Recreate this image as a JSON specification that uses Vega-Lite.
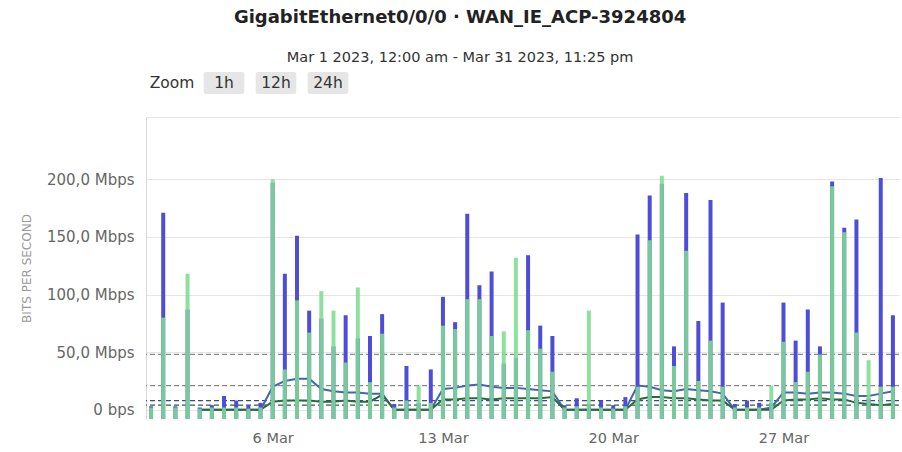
{
  "$schema": "https://vega.github.io/schema/vega-lite/v6.json",
  "background": "white",
  "padding": {"left": 20, "top": 8, "right": 0, "bottom": 2},
  "config": {"font": "DejaVu Sans", "view": {"stroke": null}},
  "title": {
    "text": "GigabitEthernet0/0/0 · WAN_IE_ACP-3924804",
    "subtitle": "Mar 1 2023, 12:00 am - Mar 31 2023, 11:25 pm",
    "fontSize": 18, "fontWeight": "bold", "color": "#222",
    "subtitleFontSize": 14.5, "subtitleColor": "#333", "subtitlePadding": 24,
    "offset": 8, "anchor": "middle"
  },
  "bounds": "flush",
  "spacing": 23,
  "datasets": {
    "zoom": [
      {"label": "Zoom", "button": false},
      {"label": "1h", "button": true},
      {"label": "12h", "button": true},
      {"label": "24h", "button": true}
    ],
    "slots": [
      {"t": "2023-03-01T00:00:00", "in": 3, "out": 2},
      {"t": "2023-03-01T12:00:00", "in": 171, "out": 80},
      {"t": "2023-03-02T00:00:00", "in": 3, "out": 2},
      {"t": "2023-03-02T12:00:00", "in": 87, "out": 118},
      {"t": "2023-03-03T00:00:00", "in": 2, "out": 1},
      {"t": "2023-03-03T12:00:00", "in": 4, "out": 2},
      {"t": "2023-03-04T00:00:00", "in": 12, "out": 2},
      {"t": "2023-03-04T12:00:00", "in": 8, "out": 2},
      {"t": "2023-03-05T00:00:00", "in": 4, "out": 1},
      {"t": "2023-03-05T12:00:00", "in": 6, "out": 2},
      {"t": "2023-03-06T00:00:00", "in": 197, "out": 200},
      {"t": "2023-03-06T12:00:00", "in": 118, "out": 35},
      {"t": "2023-03-07T00:00:00", "in": 151, "out": 95},
      {"t": "2023-03-07T12:00:00", "in": 86, "out": 67},
      {"t": "2023-03-08T00:00:00", "in": 79, "out": 103},
      {"t": "2023-03-08T12:00:00", "in": 55, "out": 86},
      {"t": "2023-03-09T00:00:00", "in": 82, "out": 41},
      {"t": "2023-03-09T12:00:00", "in": 62, "out": 106},
      {"t": "2023-03-10T00:00:00", "in": 64, "out": 24},
      {"t": "2023-03-10T12:00:00", "in": 83, "out": 66},
      {"t": "2023-03-11T00:00:00", "in": 5, "out": 2},
      {"t": "2023-03-11T12:00:00", "in": 38, "out": 8},
      {"t": "2023-03-12T00:00:00", "in": 6, "out": 21},
      {"t": "2023-03-12T12:00:00", "in": 35, "out": 6},
      {"t": "2023-03-13T00:00:00", "in": 98, "out": 73},
      {"t": "2023-03-13T12:00:00", "in": 76, "out": 70},
      {"t": "2023-03-14T00:00:00", "in": 170, "out": 96},
      {"t": "2023-03-14T12:00:00", "in": 108, "out": 96},
      {"t": "2023-03-15T00:00:00", "in": 120, "out": 64},
      {"t": "2023-03-15T12:00:00", "in": 40, "out": 68},
      {"t": "2023-03-16T00:00:00", "in": 45, "out": 132},
      {"t": "2023-03-16T12:00:00", "in": 134, "out": 69},
      {"t": "2023-03-17T00:00:00", "in": 73, "out": 53},
      {"t": "2023-03-17T12:00:00", "in": 64, "out": 33},
      {"t": "2023-03-18T00:00:00", "in": 4, "out": 2},
      {"t": "2023-03-18T12:00:00", "in": 10, "out": 3},
      {"t": "2023-03-19T00:00:00", "in": 5, "out": 86},
      {"t": "2023-03-19T12:00:00", "in": 8, "out": 2},
      {"t": "2023-03-20T00:00:00", "in": 4, "out": 1},
      {"t": "2023-03-20T12:00:00", "in": 11, "out": 3},
      {"t": "2023-03-21T00:00:00", "in": 152, "out": 20},
      {"t": "2023-03-21T12:00:00", "in": 186, "out": 147},
      {"t": "2023-03-22T00:00:00", "in": 196, "out": 203},
      {"t": "2023-03-22T12:00:00", "in": 55, "out": 38},
      {"t": "2023-03-23T00:00:00", "in": 188, "out": 138},
      {"t": "2023-03-23T12:00:00", "in": 77, "out": 25},
      {"t": "2023-03-24T00:00:00", "in": 182, "out": 60},
      {"t": "2023-03-24T12:00:00", "in": 93, "out": 20},
      {"t": "2023-03-25T00:00:00", "in": 5, "out": 2},
      {"t": "2023-03-25T12:00:00", "in": 8, "out": 2},
      {"t": "2023-03-26T00:00:00", "in": 6, "out": 2},
      {"t": "2023-03-26T12:00:00", "in": 6, "out": 21},
      {"t": "2023-03-27T00:00:00", "in": 93, "out": 59},
      {"t": "2023-03-27T12:00:00", "in": 60, "out": 24},
      {"t": "2023-03-28T00:00:00", "in": 87, "out": 33},
      {"t": "2023-03-28T12:00:00", "in": 55, "out": 48},
      {"t": "2023-03-29T00:00:00", "in": 198, "out": 194},
      {"t": "2023-03-29T12:00:00", "in": 158, "out": 154},
      {"t": "2023-03-30T00:00:00", "in": 165, "out": 67},
      {"t": "2023-03-30T12:00:00", "in": 10, "out": 43},
      {"t": "2023-03-31T00:00:00", "in": 201, "out": 20},
      {"t": "2023-03-31T12:00:00", "in": 82, "out": 20}
    ],
    "avg": [
      {"t": "2023-03-03T00:00:00", "avgIn": 0, "avgOut": 0},
      {"t": "2023-03-03T12:00:00", "avgIn": 0, "avgOut": 0},
      {"t": "2023-03-04T00:00:00", "avgIn": 0, "avgOut": 0},
      {"t": "2023-03-04T12:00:00", "avgIn": 0, "avgOut": 0},
      {"t": "2023-03-05T00:00:00", "avgIn": 0, "avgOut": 0},
      {"t": "2023-03-05T12:00:00", "avgIn": 0, "avgOut": 0},
      {"t": "2023-03-06T00:00:00", "avgIn": 20, "avgOut": 7},
      {"t": "2023-03-06T12:00:00", "avgIn": 25, "avgOut": 8},
      {"t": "2023-03-07T00:00:00", "avgIn": 27, "avgOut": 8},
      {"t": "2023-03-07T12:00:00", "avgIn": 27, "avgOut": 8},
      {"t": "2023-03-08T00:00:00", "avgIn": 18, "avgOut": 7},
      {"t": "2023-03-08T12:00:00", "avgIn": 16, "avgOut": 7},
      {"t": "2023-03-09T00:00:00", "avgIn": 15, "avgOut": 8},
      {"t": "2023-03-09T12:00:00", "avgIn": 15, "avgOut": 7},
      {"t": "2023-03-10T00:00:00", "avgIn": 14, "avgOut": 7},
      {"t": "2023-03-10T12:00:00", "avgIn": 14, "avgOut": 13},
      {"t": "2023-03-11T00:00:00", "avgIn": 0, "avgOut": 0},
      {"t": "2023-03-11T12:00:00", "avgIn": 0, "avgOut": 0},
      {"t": "2023-03-12T00:00:00", "avgIn": 0, "avgOut": 0},
      {"t": "2023-03-12T12:00:00", "avgIn": 0, "avgOut": 0},
      {"t": "2023-03-13T00:00:00", "avgIn": 18, "avgOut": 9},
      {"t": "2023-03-13T12:00:00", "avgIn": 19, "avgOut": 9},
      {"t": "2023-03-14T00:00:00", "avgIn": 21, "avgOut": 10},
      {"t": "2023-03-14T12:00:00", "avgIn": 22, "avgOut": 10},
      {"t": "2023-03-15T00:00:00", "avgIn": 20, "avgOut": 9},
      {"t": "2023-03-15T12:00:00", "avgIn": 19, "avgOut": 10},
      {"t": "2023-03-16T00:00:00", "avgIn": 19, "avgOut": 10},
      {"t": "2023-03-16T12:00:00", "avgIn": 18, "avgOut": 10},
      {"t": "2023-03-17T00:00:00", "avgIn": 17, "avgOut": 10},
      {"t": "2023-03-17T12:00:00", "avgIn": 16, "avgOut": 11},
      {"t": "2023-03-18T00:00:00", "avgIn": 0, "avgOut": 0},
      {"t": "2023-03-18T12:00:00", "avgIn": 0, "avgOut": 0},
      {"t": "2023-03-19T00:00:00", "avgIn": 0, "avgOut": 0},
      {"t": "2023-03-19T12:00:00", "avgIn": 0, "avgOut": 0},
      {"t": "2023-03-20T00:00:00", "avgIn": 0, "avgOut": 0},
      {"t": "2023-03-20T12:00:00", "avgIn": 0, "avgOut": 0},
      {"t": "2023-03-21T00:00:00", "avgIn": 21, "avgOut": 9},
      {"t": "2023-03-21T12:00:00", "avgIn": 20, "avgOut": 11},
      {"t": "2023-03-22T00:00:00", "avgIn": 17, "avgOut": 11},
      {"t": "2023-03-22T12:00:00", "avgIn": 16, "avgOut": 10},
      {"t": "2023-03-23T00:00:00", "avgIn": 18, "avgOut": 10},
      {"t": "2023-03-23T12:00:00", "avgIn": 17, "avgOut": 9},
      {"t": "2023-03-24T00:00:00", "avgIn": 16, "avgOut": 8},
      {"t": "2023-03-24T12:00:00", "avgIn": 14, "avgOut": 8},
      {"t": "2023-03-25T00:00:00", "avgIn": 0, "avgOut": 0},
      {"t": "2023-03-25T12:00:00", "avgIn": 0, "avgOut": 0},
      {"t": "2023-03-26T00:00:00", "avgIn": 0, "avgOut": 0},
      {"t": "2023-03-26T12:00:00", "avgIn": 2, "avgOut": 0},
      {"t": "2023-03-27T00:00:00", "avgIn": 15, "avgOut": 8},
      {"t": "2023-03-27T12:00:00", "avgIn": 15, "avgOut": 9},
      {"t": "2023-03-28T00:00:00", "avgIn": 14, "avgOut": 9},
      {"t": "2023-03-28T12:00:00", "avgIn": 15, "avgOut": 10},
      {"t": "2023-03-29T00:00:00", "avgIn": 15, "avgOut": 9},
      {"t": "2023-03-29T12:00:00", "avgIn": 14, "avgOut": 9},
      {"t": "2023-03-30T00:00:00", "avgIn": 12, "avgOut": 6},
      {"t": "2023-03-30T12:00:00", "avgIn": 12, "avgOut": 5},
      {"t": "2023-03-31T00:00:00", "avgIn": 14, "avgOut": 4},
      {"t": "2023-03-31T12:00:00", "avgIn": 16, "avgOut": 5}
    ],
    "refs": [
      {"v": 48, "k": "p95 in"},
      {"v": 21, "k": "p95 out"},
      {"v": 8, "k": "mean in"},
      {"v": 4, "k": "mean out"}
    ]
  },
  "vconcat": [
    {
      "width": 208,
      "height": 22,
      "data": {"name": "zoom"},
      "encoding": {
        "x": {"field": "label", "type": "nominal", "axis": null,
              "scale": {"domain": ["Zoom", "1h", "12h", "24h"], "paddingInner": 0, "paddingOuter": 0}}
      },
      "layer": [
        {
          "transform": [{"filter": "datum.button"}],
          "mark": {"type": "bar", "color": "#e6e6e6", "width": {"band": 0.78}, "cornerRadius": 2}
        },
        {
          "mark": {"type": "text", "fontSize": 15.5, "color": "#333"},
          "encoding": {"text": {"field": "label"}}
        }
      ]
    },
    {
      "width": 753,
      "height": 302,
      "layer": [
        {
          "data": {"name": "refs"},
          "mark": {"type": "rule", "strokeDash": [5, 3], "strokeWidth": 1.3},
          "encoding": {
            "y": {"field": "v", "type": "quantitative",
                  "scale": {"domain": [-8, 254], "nice": false, "zero": false},
                  "axis": {
                    "values": [0, 50, 100, 150, 200, 254],
                    "labelExpr": "datum.value == 0 ? '0 bps' : datum.value > 250 ? '' : replace(format(datum.value, '.1f'), '.', ',') + ' Mbps'",
                    "title": "BITS PER SECOND", "titleFontSize": 12, "titleFontWeight": "normal",
                    "titleColor": "#999", "titlePadding": 13,
                    "labelFontSize": 15, "labelColor": "#666", "labelPadding": 12,
                    "ticks": false, "domain": true, "domainColor": "#d8d8d8",
                    "grid": true, "gridColor": "#e6e6e6"
                  }},
            "color": {"field": "k", "type": "nominal", "legend": null,
                      "scale": {"domain": ["p95 in", "p95 out", "mean in", "mean out"],
                                "range": ["#8a8a8a", "#8a8a8a", "#3b4a86", "#2f5f3f"]}}
          }
        },
        {
          "data": {"name": "avg"},
          "mark": {"type": "line", "color": "#4565ad", "strokeWidth": 2},
          "encoding": {
            "x": {"field": "t", "type": "temporal"},
            "y": {"field": "avgIn", "type": "quantitative"}
          }
        },
        {
          "data": {"name": "avg"},
          "mark": {"type": "line", "color": "#2c6a3a", "strokeWidth": 2},
          "encoding": {
            "x": {"field": "t", "type": "temporal"},
            "y": {"field": "avgOut", "type": "quantitative"}
          }
        },
        {
          "data": {"name": "slots"},
          "mark": {"type": "bar", "color": "#4d4dd8", "size": 4, "clip": true},
          "encoding": {
            "x": {"field": "t", "type": "temporal",
                  "scale": {"domain": [{"year": 2023, "month": 2, "date": 28, "hours": 19}, {"year": 2023, "month": 3, "date": 31, "hours": 18}], "nice": false, "padding": 0},
                  "axis": {
                    "values": [{"year": 2023, "month": 3, "date": 6}, {"year": 2023, "month": 3, "date": 13}, {"year": 2023, "month": 3, "date": 20}, {"year": 2023, "month": 3, "date": 27}],
                    "format": "%-d %b", "title": null, "labelFontSize": 14.5, "labelColor": "#666",
                    "labelPadding": 12, "ticks": false, "domain": false, "grid": false
                  }},
            "y": {"field": "in", "type": "quantitative"},
            "y2": {"datum": -8}
          }
        },
        {
          "data": {"name": "slots"},
          "mark": {"type": "bar", "color": "#80dc92", "opacity": 0.88, "size": 4, "clip": true},
          "encoding": {
            "x": {"field": "t", "type": "temporal"},
            "y": {"field": "out", "type": "quantitative"},
            "y2": {"datum": -8}
          }
        }
      ]
    }
  ]
}
